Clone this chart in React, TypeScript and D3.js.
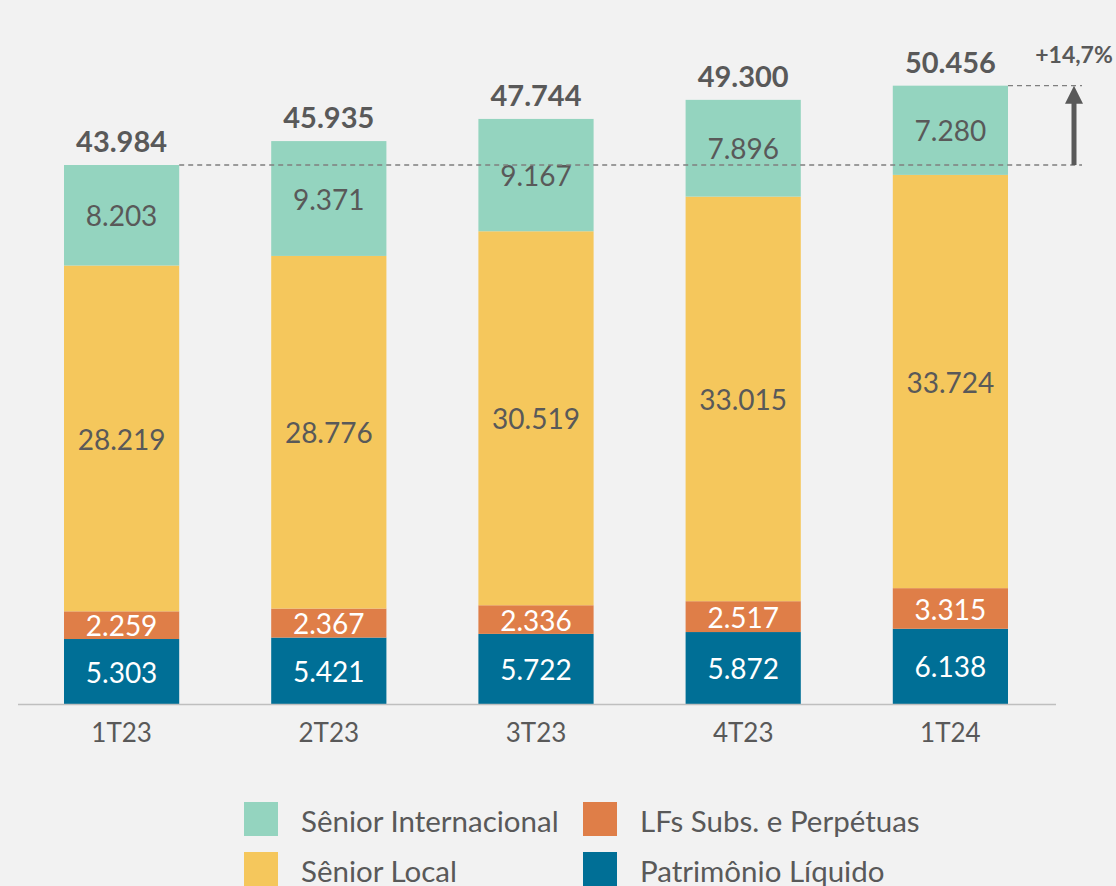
import { useEffect, useRef } from 'react';
import * as d3 from 'd3';

const categories = ['1T23', '2T23', '3T23', '4T23', '1T24'];
const patrimonio = [5303, 5421, 5722, 5872, 6138];
const lfsSubs = [2259, 2367, 2336, 2517, 3315];
const seniorLocal = [28219, 28776, 30519, 33015, 33724];
const seniorInter = [8203, 9371, 9167, 7896, 7280];
const totals = [43984, 45935, 47744, 49300, 50456];
const growthLabel = '+14,7%';

const series = [
  { key: 'pl', name: 'Patrimônio Líquido', values: patrimonio, color: '#006f96', text: '#ffffff' },
  { key: 'lf', name: 'LFs Subs. e Perpétuas', values: lfsSubs, color: '#df7e48', text: '#ffffff' },
  { key: 'sl', name: 'Sênior Local', values: seniorLocal, color: '#f5c75c', text: '#595959' },
  { key: 'si', name: 'Sênior Internacional', values: seniorInter, color: '#94d4bf', text: '#595959' },
];

const fmt = (v: number) => d3.format(',')(v).replace(/,/g, '.');

function App() {
  const svgRef = useRef<SVGSVGElement | null>(null);

  useEffect(() => {
    const width = 1116;
    const height = 886;
    const font = 'Lato, sans-serif';
    const svg = d3.select(svgRef.current).attr('width', width).attr('height', height);
    svg.selectAll('*').remove();

    svg.append('rect').attr('width', width).attr('height', height).attr('fill', '#f2f2f2');

    const baseline = 704;
    const y = d3.scaleLinear().domain([0, 43984]).range([baseline, 165]);
    const x = d3.scaleBand().domain(categories).range([64, 1008]).paddingInner(0.444).paddingOuter(0);

    // stacked data
    const rows = categories.map((c, i) => {
      const r: any = { cat: c };
      series.forEach((s) => (r[s.key] = s.values[i]));
      return r;
    });
    const stacked = d3.stack().keys(series.map((s) => s.key))(rows);

    stacked.forEach((layer, li) => {
      const s = series[li];
      const g = svg.append('g');
      g.selectAll('rect')
        .data(layer)
        .join('rect')
        .attr('x', (d: any) => x(d.data.cat)!)
        .attr('width', x.bandwidth())
        .attr('y', (d) => y(d[1]))
        .attr('height', (d) => y(d[0]) - y(d[1]))
        .attr('fill', s.color);
      g.selectAll('text')
        .data(layer)
        .join('text')
        .attr('x', (d: any) => x(d.data.cat)! + x.bandwidth() / 2)
        .attr('y', (d) => (y(d[0]) + y(d[1])) / 2 + 1)
        .attr('dy', '0.36em')
        .attr('text-anchor', 'middle')
        .attr('font-family', font)
        .attr('font-size', 28)
        .attr('fill', s.text)
        .text((d, i) => fmt(s.values[i]));
    });

    // totals
    svg.append('g')
      .selectAll('text')
      .data(categories)
      .join('text')
      .attr('x', (c) => x(c)! + x.bandwidth() / 2)
      .attr('y', (c, i) => y(totals[i]) - 13)
      .attr('text-anchor', 'middle')
      .attr('font-family', font)
      .attr('font-weight', 'bold')
      .attr('font-size', 29)
      .attr('fill', '#595959')
      .text((c, i) => fmt(totals[i]));

    // axis line
    svg.append('line')
      .attr('x1', 18).attr('x2', 1056)
      .attr('y1', baseline + 0.5).attr('y2', baseline + 0.5)
      .attr('stroke', '#bfbfbf').attr('stroke-width', 1.5);

    svg.append('g')
      .selectAll('text')
      .data(categories)
      .join('text')
      .attr('x', (c) => x(c)! + x.bandwidth() / 2)
      .attr('y', baseline + 38)
      .attr('text-anchor', 'middle')
      .attr('font-family', font)
      .attr('font-size', 26)
      .attr('fill', '#595959')
      .text((c) => c);

    // growth annotation
    const first = categories[0];
    const last = categories[categories.length - 1];
    const y0 = y(totals[0]);
    const y1 = y(totals[totals.length - 1]);
    const arrowX = 1074;
    svg.append('line')
      .attr('x1', x(first)! + x.bandwidth()).attr('x2', 1082)
      .attr('y1', y0).attr('y2', y0)
      .attr('stroke', '#7f7f7f').attr('stroke-width', 1.3).attr('stroke-dasharray', '5,4');
    svg.append('line')
      .attr('x1', x(last)! + x.bandwidth()).attr('x2', 1082)
      .attr('y1', y1).attr('y2', y1)
      .attr('stroke', '#7f7f7f').attr('stroke-width', 1.3).attr('stroke-dasharray', '5,4');
    svg.append('line')
      .attr('x1', arrowX).attr('x2', arrowX)
      .attr('y1', y0).attr('y2', y1 + 16)
      .attr('stroke', '#595959').attr('stroke-width', 5);
    svg.append('path')
      .attr('d', `M${arrowX - 9},${y1 + 18} L${arrowX},${y1} L${arrowX + 9},${y1 + 18} Z`)
      .attr('fill', '#595959');
    svg.append('text')
      .attr('x', 1074).attr('y', 63)
      .attr('text-anchor', 'middle')
      .attr('font-family', font)
      .attr('font-weight', 'bold')
      .attr('font-size', 23)
      .attr('fill', '#595959')
      .text(growthLabel);

    // legend
    const legendItems = [
      { s: series[3], lx: 244, ly: 802 },
      { s: series[1], lx: 583, ly: 802 },
      { s: series[2], lx: 244, ly: 852 },
      { s: series[0], lx: 583, ly: 852 },
    ];
    const lg = svg.append('g');
    legendItems.forEach(({ s, lx, ly }) => {
      lg.append('rect').attr('x', lx).attr('y', ly).attr('width', 34).attr('height', 34).attr('fill', s.color);
      lg.append('text')
        .attr('x', lx + 57).attr('y', ly + 19).attr('dy', '0.36em')
        .attr('font-family', font).attr('font-size', 29.5).attr('fill', '#595959')
        .text(s.name);
    });
  }, []);

  return (
    <div style={{ position: 'absolute', left: 0, top: 0 }}>
      <svg ref={svgRef} style={{ display: 'block' }}></svg>
    </div>
  );
}

export default App;
